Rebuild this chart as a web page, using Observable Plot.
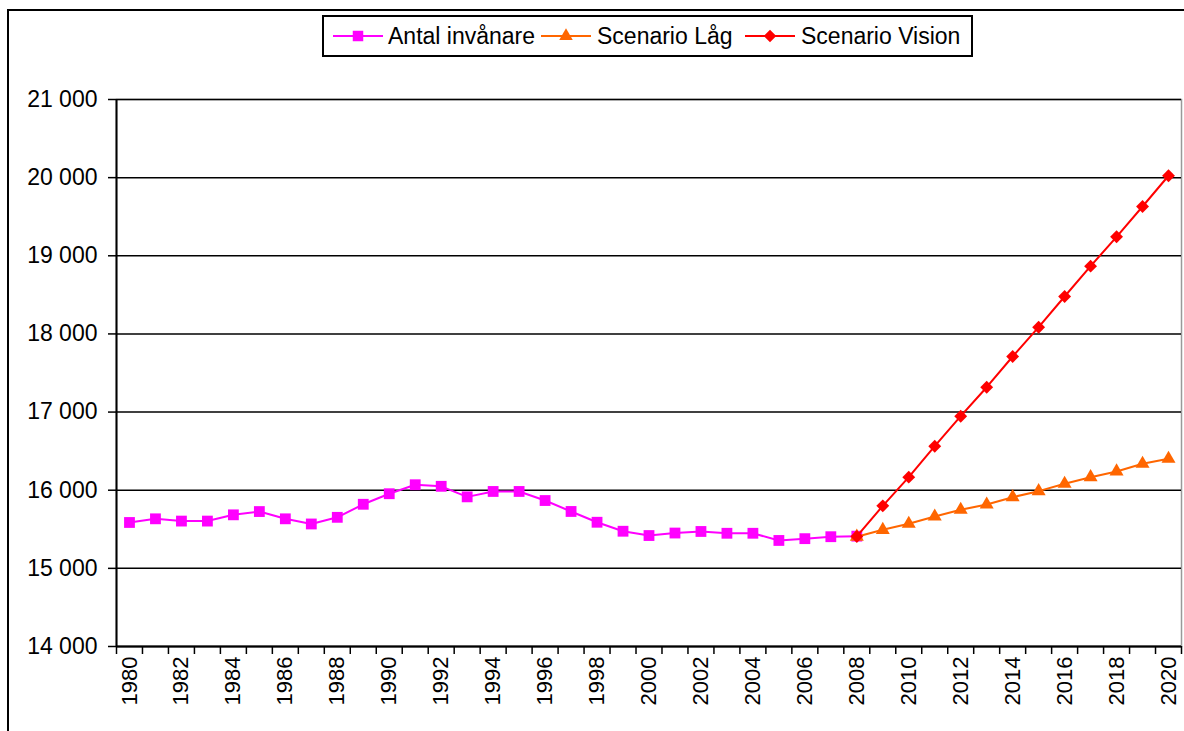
<!DOCTYPE html>
<html>
<head>
<meta charset="utf-8">
<script src="https://cdn.jsdelivr.net/npm/d3@7"></script>
<script src="https://cdn.jsdelivr.net/npm/@observablehq/plot@0.6"></script>
<style>
  html, body { margin: 0; padding: 0; background: #fff; overflow: hidden; }
  body { width: 1184px; height: 731px; position: relative; font-family: "Liberation Sans", Arial, sans-serif; }
  #frame { position: absolute; left: 7px; top: 9px; width: 1300px; height: 900px; border: 2px solid #000; box-sizing: border-box; }
  #chart { position: absolute; left: 0; top: 0; }
  #legend { position: absolute; left: 322px; top: 15px; width: 651px; height: 42px; box-sizing: border-box;
            border: 2px solid #000; background: #fff; font-size: 23px; color: #000; white-space: nowrap; }
  .sw { position: absolute; top: 9px; }
  .lt { position: absolute; top: 6px; line-height: 26px; }
</style>
</head>
<body>
<div id="frame"></div>
<div id="chart"></div>
<div id="legend"></div>
<script>
// ---- data ----
const years = [1980,1981,1982,1983,1984,1985,1986,1987,1988,1989,1990,1991,1992,1993,1994,1995,1996,1997,1998,1999,2000,
               2001,2002,2003,2004,2005,2006,2007,2008,2009,2010,2011,2012,2013,2014,2015,2016,2017,2018,2019,2020];
const antalYears = [1980,1981,1982,1983,1984,1985,1986,1987,1988,1989,1990,1991,1992,1993,1994,1995,1996,1997,1998,1999,2000,
                    2001,2002,2003,2004,2005,2006,2007,2008];
const antalInvanare = [15587,15634,15605,15605,15685,15727,15634,15568,15653,15820,15955,16070,16050,15915,15984,15984,15868,
                       15728,15590,15475,15420,15452,15472,15449,15449,15357,15380,15405,15412];
const scenarioYears = [2008,2009,2010,2011,2012,2013,2014,2015,2016,2017,2018,2019,2020];
const scenarioLag = [15405,15493,15570,15664,15749,15817,15911,15988,16082,16167,16240,16338,16402];
const scenarioVision = [15408,15800,16167,16563,16947,17318,17711,18086,18479,18867,19243,19631,20024];
const yTicks = [14000,15000,16000,17000,18000,19000,20000,21000];
const xLabelYears = [1980,1982,1984,1986,1988,1990,1992,1994,1996,1998,2000,2002,2004,2006,2008,2010,2012,2014,2016,2018,2020];
const seriesNames = ["Antal invånare", "Scenario Låg", "Scenario Vision"];
const seriesColors = ["#FF00FF", "#FF6600", "#FF0000"];
const seriesSymbols = ["square", "triangle", "diamond2"];

// ---- derived tables ----
const antalData = antalYears.map((y, i) => ({year: y, value: antalInvanare[i]}));
const lagData = scenarioYears.map((y, i) => ({year: y, value: scenarioLag[i]}));
const visionData = scenarioYears.map((y, i) => ({year: y, value: scenarioVision[i]}));
const xDomain = [years[0] - 0.5, years[years.length - 1] + 0.5];
const boundaries = years.map(y => y - 0.5).concat([years[years.length - 1] + 0.5]);
const yDomain = [yTicks[0], yTicks[yTicks.length - 1]];

const loc = d3.formatLocale({decimal: ",", thousands: " ", grouping: [3], currency: ["", ""]});
const fmt = loc.format(",");

const font = "Liberation Sans, Arial, sans-serif";

const chart = Plot.plot({
  width: 1184,
  height: 731,
  marginLeft: 116,
  marginRight: 3,
  marginTop: 99,
  marginBottom: 85,
  style: {fontFamily: font, background: "transparent", color: "#000"},
  x: {type: "linear", domain: xDomain},
  y: {domain: yDomain},
  marks: [
    Plot.frame({stroke: "#999", strokeWidth: 1.5}),
    Plot.ruleY(yTicks, {stroke: "#000", strokeWidth: 1.5}),
    Plot.ruleX([xDomain[0]], {stroke: "#000", strokeWidth: 2}),
    Plot.ruleY([yDomain[0]], {stroke: "#000", strokeWidth: 2}),
    Plot.axisY({ticks: yTicks, tickSize: 8, tickPadding: 11, tickFormat: fmt, fontSize: 23, label: null, strokeWidth: 1.5}),
    Plot.axisX({ticks: boundaries, tickSize: 8, tickFormat: () => "", label: null, strokeWidth: 1.5}),
    Plot.axisX({ticks: xLabelYears, tickSize: 0, tickPadding: 10, tickRotate: -90, tickFormat: d => String(d), fontSize: 22, label: null}),
    Plot.line(antalData, {x: "year", y: "value", stroke: seriesColors[0], strokeWidth: 2}),
    Plot.dot(antalData, {x: "year", y: "value", symbol: seriesSymbols[0], fill: seriesColors[0], r: 6.1}),
    Plot.line(lagData, {x: "year", y: "value", stroke: seriesColors[1], strokeWidth: 2}),
    Plot.dot(lagData, {x: "year", y: "value", symbol: seriesSymbols[1], fill: seriesColors[1], r: 5.2}),
    Plot.line(visionData, {x: "year", y: "value", stroke: seriesColors[2], strokeWidth: 2}),
    Plot.dot(visionData, {x: "year", y: "value", symbol: seriesSymbols[2], fill: seriesColors[2], r: 5.8})
  ]
});
document.getElementById("chart").appendChild(chart);

// ---- legend ----
const legend = document.getElementById("legend");
const symbolPaths = {
  square: d3.symbol(d3.symbolSquare, 110)(),
  triangle: d3.symbol(d3.symbolTriangle, 80)(),
  diamond2: d3.symbol(d3.symbolDiamond2, 100)()
};
const swatchLeft = [9, 217, 421];
const textLeft = [64, 273, 477];
seriesNames.forEach((name, i) => {
  const sw = document.createElement("div");
  sw.className = "sw";
  sw.style.left = swatchLeft[i] + "px";
  sw.innerHTML = `<svg width="50" height="20" viewBox="0 0 50 20" style="display:block">
      <line x1="0" y1="10" x2="50" y2="10" stroke="${seriesColors[i]}" stroke-width="2"/>
      <path transform="translate(25,10)" d="${symbolPaths[seriesSymbols[i]]}" fill="${seriesColors[i]}"/>
    </svg>`;
  legend.appendChild(sw);
  const t = document.createElement("div");
  t.className = "lt";
  t.style.left = textLeft[i] + "px";
  t.textContent = name;
  legend.appendChild(t);
});
</script>
</body>
</html>
